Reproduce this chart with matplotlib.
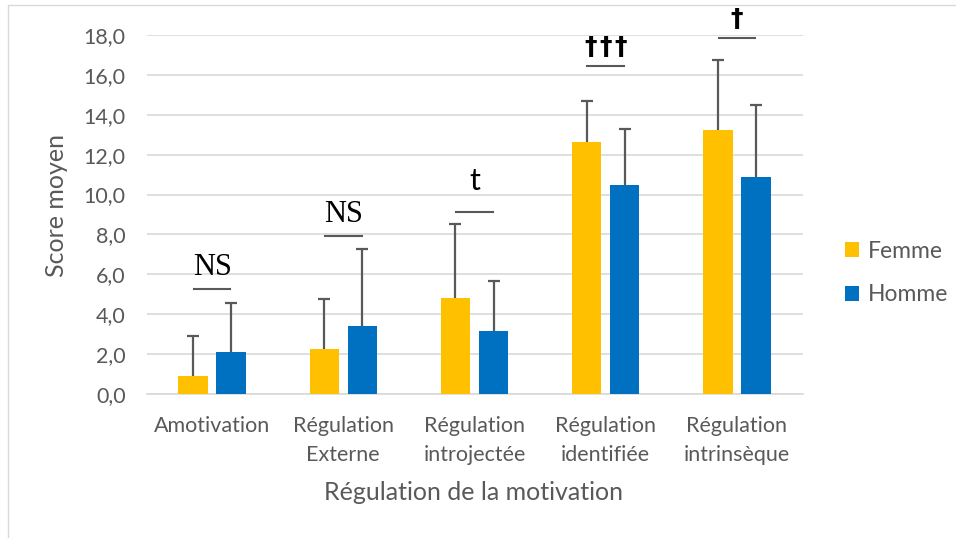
import matplotlib
matplotlib.use("Agg")
import matplotlib.pyplot as plt
from matplotlib.patches import Rectangle
import numpy as np

categories = ["Amotivation", "Régulation\nExterne", "Régulation\nintrojectée",
              "Régulation\nidentifiée", "Régulation\nintrinsèque"]
femme = [0.9, 2.25, 4.8, 12.65, 13.25]
femme_err = [2.0, 2.5, 3.7, 2.05, 3.5]
homme = [2.1, 3.4, 3.15, 10.5, 10.9]
homme_err = [2.45, 3.85, 2.5, 2.8, 3.6]
sig_labels = ["NS", "NS", "t", "†††", "†"]
sig_line_y = [5.27, 7.92, 9.13, 16.45, 17.85]
sig_text_y = [5.97, 8.63, 10.23, 17.05, 18.45]
yticks = [0, 2, 4, 6, 8, 10, 12, 14, 16, 18]

W, H = 956, 538
fig = plt.figure(figsize=(W / 100, H / 100), dpi=100)
plt.rcParams['font.family'] = ['Lato', 'DejaVu Sans']

# chart border
fig.patches.append(Rectangle((8 / W, -0.01), (W - 8) / W + 0.02, (H - 5) / H + 0.01,
                             transform=fig.transFigure, fill=False,
                             edgecolor="#d9d9d9", linewidth=1.0))

left, right = 146.5 / W, 802.5 / W
bottom, top = 1 - 394 / H, 1 - 35 / H
ax = fig.add_axes([left, bottom, right - left, top - bottom])

x = np.arange(len(categories))
bw = 0.225
off = 0.145
grey = "#595959"
ax.bar(x - off, femme, bw, color="#FFC000", label="Femme", zorder=3)
ax.bar(x + off, homme, bw, color="#0070C0", label="Homme", zorder=3)
ekw = dict(fmt="none", ecolor=grey, elinewidth=1.6, capsize=4.3, capthick=1.6, zorder=4)
for xs, vals, errs in [(x - off, femme, femme_err), (x + off, homme, homme_err)]:
    _, caps, _ = ax.errorbar(xs, vals, yerr=[np.zeros(len(vals)), errs], **ekw)
    caps[0].set_visible(False)

ax.set_xlim(-0.5, len(categories) - 0.5)
ax.set_ylim(0, 18)
ax.set_yticks(yticks)
ax.set_yticklabels([f"{v:.1f}".replace(".", ",") for v in yticks], fontsize=15.5, color=grey)
ax.set_xticks(x)
ax.set_xticklabels(categories, fontsize=15.5, color=grey, linespacing=1.56)
ax.tick_params(axis="both", length=0)
ax.tick_params(axis="x", pad=16)
ax.tick_params(axis="y", pad=15)
ax.grid(axis="y", color="#d9d9d9", linewidth=1.2, zorder=0)
for s in ax.spines.values():
    s.set_visible(False)
ax.spines["bottom"].set_visible(True)
ax.spines["bottom"].set_color("#d9d9d9")
ax.spines["bottom"].set_linewidth(1.2)

fig.text(57 / W, 1 - 205 / H, "Score moyen", rotation=90, ha="center", va="center",
         fontsize=18, color=grey)
fig.text(474 / W, 1 - 493 / H, "Régulation de la motivation", ha="center", va="center",
         fontsize=18, color=grey)

# significance annotations
for i, (lab, ly, ty) in enumerate(zip(sig_labels, sig_line_y, sig_text_y)):
    ax.plot([i - 0.14, i + 0.14], [ly, ly], color=grey, linewidth=1.5, zorder=5, clip_on=False)
    if "†" in lab:
        n = len(lab)
        step = 11.0  # points between daggers
        for k, ch in enumerate(lab):
            dx = (k - (n - 1) / 2) * step
            ax.annotate(ch, (i, ty), xytext=(dx, 0), textcoords="offset points",
                        ha="center", va="baseline", color="black", annotation_clip=False,
                        family=["DejaVu Sans"], fontsize=18, fontweight="bold")
        continue
    if lab == "t":
        kw = dict(family=["Lato", "DejaVu Sans"], fontsize=22)
    else:
        kw = dict(family=["Liberation Serif", "DejaVu Serif"], fontsize=22)
    ax.text(i, ty, lab, ha="center", va="baseline", color="black", clip_on=False, **kw)

leg = ax.legend(loc="center left", bbox_to_anchor=(1.033, 0.337), frameon=False,
                fontsize=16.5, handlelength=0.6, handleheight=0.6, labelspacing=1.0,
                handletextpad=0.4)
for t in leg.get_texts():
    t.set_color(grey)

fig.savefig("out.png", dpi=100)
